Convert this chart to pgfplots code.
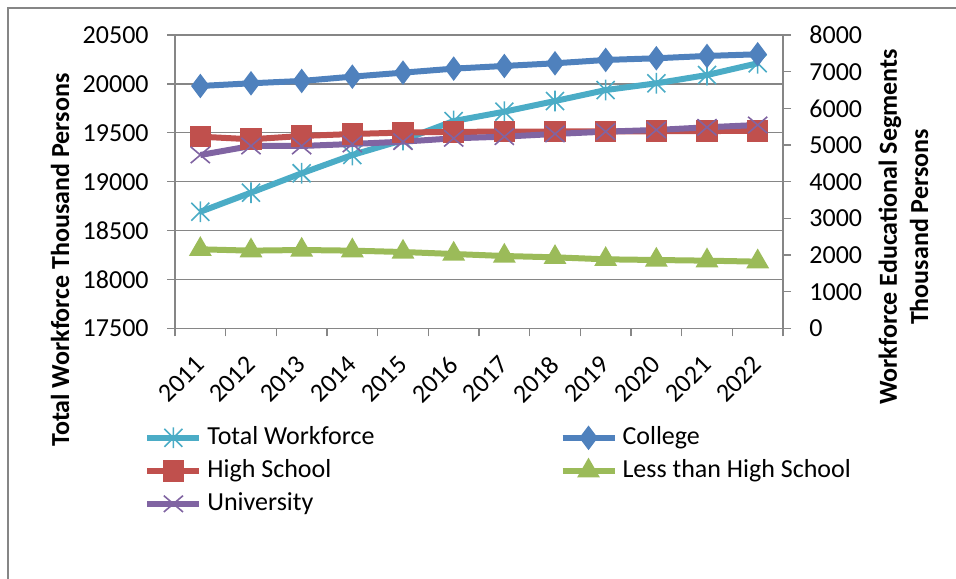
\documentclass[border=0pt]{standalone}
\usepackage{pgfplots}
\pgfplotsset{compat=1.18}
\usepackage{fontspec}
\setmainfont{Carlito}
\definecolor{cTot}{HTML}{4BACC6}
\definecolor{cCol}{HTML}{4F81BD}
\definecolor{cHS}{HTML}{C0504D}
\definecolor{cLHS}{HTML}{9BBB59}
\definecolor{cUni}{HTML}{8064A2}
\definecolor{gridg}{HTML}{868686}
\pgfdeclareplotmark{xstar}{%
  \pgfpathmoveto{\pgfqpoint{-\pgfplotmarksize}{-\pgfplotmarksize}}%
  \pgfpathlineto{\pgfqpoint{\pgfplotmarksize}{\pgfplotmarksize}}%
  \pgfpathmoveto{\pgfqpoint{-\pgfplotmarksize}{\pgfplotmarksize}}%
  \pgfpathlineto{\pgfqpoint{\pgfplotmarksize}{-\pgfplotmarksize}}%
  \pgfpathmoveto{\pgfqpoint{0pt}{-1.15\pgfplotmarksize}}%
  \pgfpathlineto{\pgfqpoint{0pt}{1.15\pgfplotmarksize}}%
  \pgfusepathqstroke}
\pgfdeclareplotmark{bigx}{%
  \pgfpathmoveto{\pgfqpoint{-\pgfplotmarksize}{-0.85\pgfplotmarksize}}%
  \pgfpathlineto{\pgfqpoint{\pgfplotmarksize}{0.85\pgfplotmarksize}}%
  \pgfpathmoveto{\pgfqpoint{-\pgfplotmarksize}{0.85\pgfplotmarksize}}%
  \pgfpathlineto{\pgfqpoint{\pgfplotmarksize}{-0.85\pgfplotmarksize}}%
  \pgfusepathqstroke}
\pgfplotstableread{
x yr tot col hs lhs uni
0  2011 18693 6610 5228 2157 4729
1  2012 18888 6684 5157 2120 4974
2  2013 19086 6747 5247 2138 4974
3  2014 19273 6865 5301 2120 5029
4  2015 19426 6974 5340 2083 5092
5  2016 19620 7083 5360 2029 5183
6  2017 19716 7156 5365 1974 5229
7  2018 19825 7229 5370 1938 5302
8  2019 19937 7320 5370 1884 5365
9  2020 20006 7366 5375 1865 5411
10 2021 20091 7429 5380 1847 5484
11 2022 20211 7475 5390 1820 5547
}\datatable
\newcommand{\fs}{\fontsize{13}{15.6}\selectfont}
\pgfplotsset{
  common/.style={
    scale only axis, width=304pt, height=146.7pt,
    at={(0,0)}, anchor=south west,
    xmin=-0.5, xmax=11.5,
    tick align=outside,
    scaled y ticks=false,
    axis line style={draw=gridg, line width=0.6pt, -},
    major tick style={draw=gridg, line width=0.6pt},
    minor tick style={draw=gridg, line width=0.6pt},
    major tick length=4pt, minor tick length=4pt,
    tick label style={font=\fs},
    /pgf/number format/.cd, 1000 sep={}, assume math mode=true,
  },
  ser/.style={line width=3pt, mark options={solid, line width=0.8pt}},
}
\begin{document}
\begin{tikzpicture}
\begin{axis}[common,
  axis x line*=bottom, axis y line*=left,
  ymin=17500, ymax=20500, ytick={17500,18000,...,20500},
  ymajorgrids, major grid style={draw=gridg, line width=0.6pt},
  xtick={0,...,11},
  xticklabels={2011,2012,2013,2014,2015,2016,2017,2018,2019,2020,2021,2022},
  major x tick style={draw=none},
  minor xtick={-0.5,0.5,...,11.5},
  xticklabel style={yshift=-12pt, rotate=45, anchor=east, inner sep=0pt},
  yticklabel style={inner sep=0pt, xshift=-9pt},
  ylabel={\bfseries Total Workforce Thousand Persons},
  every axis y label/.style={at={(axis description cs:-0.189,0.233)}, rotate=90, anchor=center, font=\fs},
]
\addplot[ser, color=cTot, mark=xstar, mark size=4.5pt] table[x=x, y=tot] {\datatable};
\end{axis}
\begin{axis}[common,
  axis x line=none, axis y line*=right,
  ymin=0, ymax=8000, ytick={0,1000,...,8000},
  yticklabel style={inner sep=0pt, xshift=9pt, anchor=west},
  ylabel={\bfseries Workforce Educational Segments\\\bfseries Thousand Persons},
  every axis y label/.style={at={(axis description cs:1.198,0.3456)}, rotate=90, anchor=center, align=center, font=\fs},
  legend columns=2,
  legend cell align=left,
  legend image code/.code={%
    \draw[mark repeat=2, mark phase=2] plot coordinates {(0pt,0pt) (13pt,0pt) (26pt,0pt)};},
  legend style={at={(axis description cs:-0.0510,-0.329)}, anchor=north west,
    draw=none, fill=none, inner sep=0pt, font=\fs, row sep=4pt,
    nodes={inner xsep=2.5pt, inner ysep=0pt, text height=9.5pt, text depth=3pt},
    /tikz/every even column/.append style={column sep=90pt}},
]
\addlegendimage{ser, color=cTot, mark=xstar, mark size=4.5pt}
\addlegendentry{Total Workforce}
\addplot[ser, color=cCol, mark=diamond*, mark size=5.5pt] table[x=x, y=col] {\datatable};
\addlegendentry{College}
\addplot[ser, color=cHS, mark=square*, mark size=5pt] table[x=x, y=hs] {\datatable};
\addlegendentry{High School}
\addplot[ser, color=cLHS, mark=triangle*, mark size=5.8pt] table[x=x, y=lhs] {\datatable};
\addlegendentry{Less than High School}
\addplot[ser, color=cUni, mark=bigx, mark size=4.8pt] table[x=x, y=uni] {\datatable};
\addlegendentry{University}
\end{axis}
\draw[gridg, line width=0.6pt] (-83.5pt,-130pt) -- (-83.5pt,160.2pt) -- (400pt,160.2pt);
\pgfresetboundingbox
\path[use as bounding box] (-87.5pt,-124.8pt) rectangle (390.5pt,164.2pt);
\end{tikzpicture}
\end{document}
